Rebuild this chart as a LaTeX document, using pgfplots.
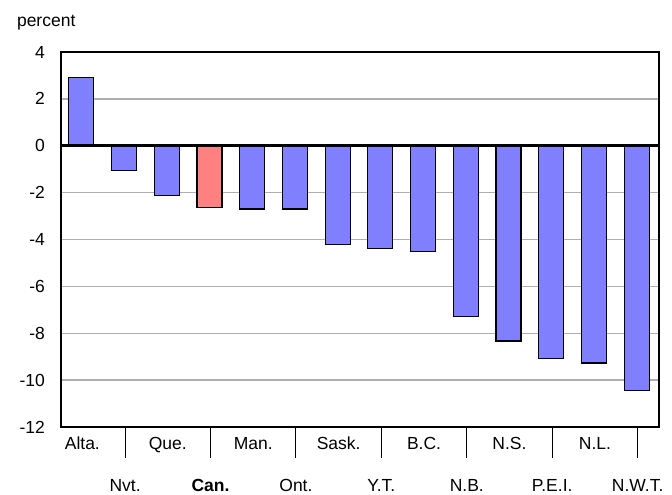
\documentclass[border=0pt]{standalone}
\usepackage{fontspec}
\setmainfont{Liberation Sans}
\usepackage{pgfplots}
\pgfplotsset{compat=1.18}
\definecolor{barblue}{RGB}{128,128,255}
\definecolor{barred}{RGB}{255,128,128}
\definecolor{gridgray}{RGB}{175,175,175}
\begin{document}
\fontsize{17.5pt}{21pt}\selectfont
\begin{tikzpicture}
\path[use as bounding box] (-61pt,-68pt) rectangle (611pt,427pt);
\begin{axis}[
  at={(0,0)}, anchor=south west,
  scale only axis, width=598pt, height=375pt,
  xmin=-0.5, xmax=13.5, ymin=-12, ymax=4,
  ytick={-12,-10,...,4},
  yticklabels={-12,-10,-8,-6,-4,-2,0,2,4},
  ymajorgrids, grid style={gridgray, line width=1.3pt},
  axis line style={black, line width=1.4pt},
  xtick={0,2,...,12},
  xticklabels={Alta.,Que.,Man.,Sask.,B.C.,N.S.,N.L.},
  major tick length=0pt,
  tick align=outside,
  xtick pos=bottom,
  extra x ticks={1,3,...,13},
  extra x tick labels={Nvt.,\textbf{Can.},Ont.,Y.T.,N.B.,P.E.I.,N.W.T.},
  extra x tick style={major tick length=31pt, tick align=outside, xtick pos=bottom, tick style={black, line width=0.9pt}, grid=none,
     tick label style={yshift=-11pt}},
  tick label style={font=\fontsize{17.5pt}{21pt}\selectfont},
  xticklabel style={yshift=-4pt},
  yticklabel style={xshift=-10pt},
  /pgf/number format/assume math mode=true,
  clip=false,
]
\addplot[ybar, bar width=25pt, bar shift=-1pt, fill=barblue, draw=black, line width=1.1pt]
 coordinates {(0,2.9) (1,-1.05) (2,-2.12) (4,-2.7) (5,-2.7) (6,-4.2) (7,-4.37) (8,-4.52) (9,-7.3) (10,-8.33) (11,-9.08) (12,-9.27) (13,-10.45)};
\addplot[ybar, bar width=25pt, bar shift=-1pt, fill=barred, draw=black, line width=1.1pt]
 coordinates {(3,-2.65)};
\draw[black, line width=3pt] (axis cs:-0.5,0) -- (axis cs:13.5,0);
\end{axis}
\node[anchor=west] at (-50pt,404pt) {percent};
\end{tikzpicture}
\end{document}
